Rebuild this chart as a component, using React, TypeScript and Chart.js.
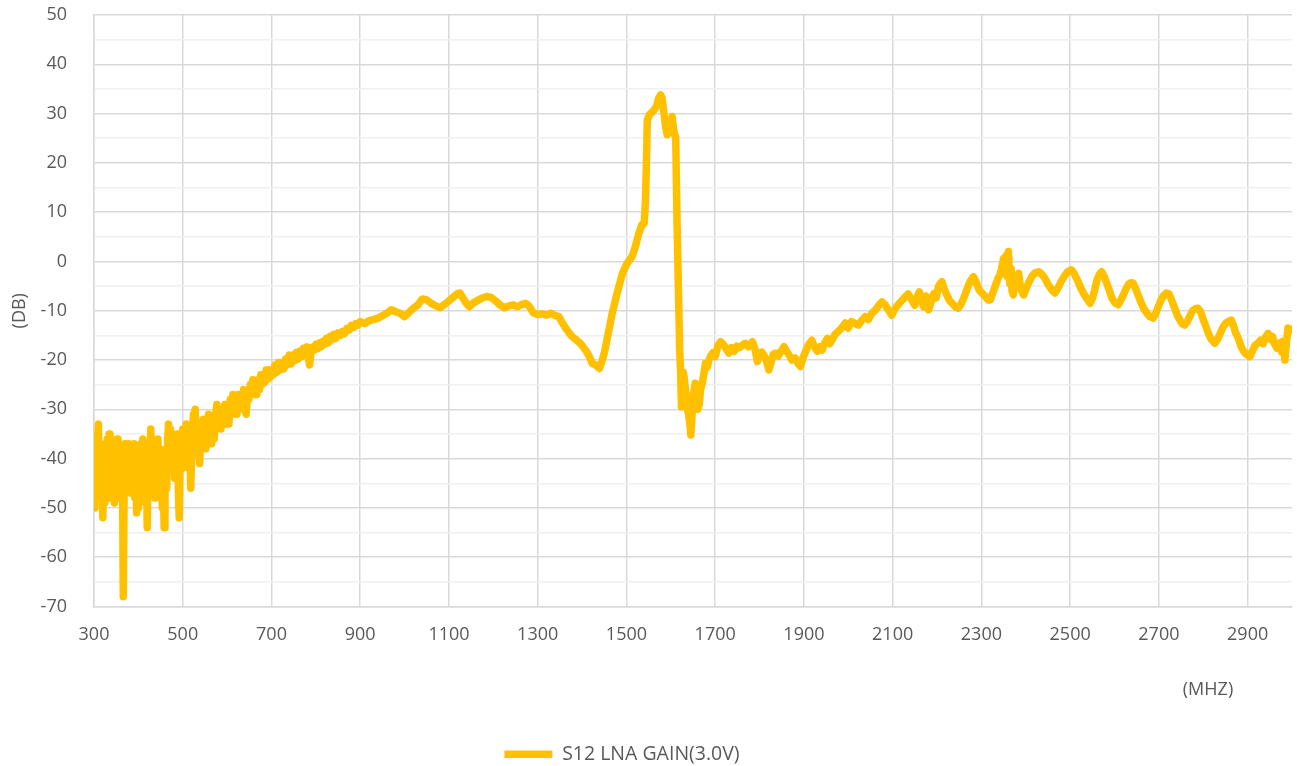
import { useEffect, useRef } from 'react';
import { Chart, registerables } from 'chart.js';

Chart.register(...registerables);

const seriesLabel = 'S12 LNA GAIN(3.0V)';
const xUnit = '(MHZ)';
const yUnit = '(DB)';

const xTickValues = [300, 500, 700, 900, 1100, 1300, 1500, 1700, 1900, 2100, 2300, 2500, 2700, 2900];
const xMin = 300;
const xMax = 3000;
const yMin = -70;
const yMax = 50;
const yStep = 5;

const freqMHz = [
  300, 302, 304, 306, 308, 310, 312, 314, 316, 318, 320, 322, 324, 326, 328, 330, 332, 334, 336, 338,
  340, 342, 344, 346, 348, 350, 352, 354, 356, 358, 360, 362, 364, 366, 368, 370, 372, 374, 376, 378,
  380, 382, 384, 386, 388, 390, 392, 394, 396, 398, 400, 402, 404, 406, 408, 410, 412, 414, 416, 418,
  420, 422, 424, 426, 428, 430, 432, 434, 436, 438, 440, 442, 444, 446, 448, 450, 452, 454, 456, 458,
  460, 462, 464, 466, 468, 470, 472, 474, 476, 478, 480, 482, 484, 486, 488, 490, 492, 494, 496, 498,
  500, 502, 504, 506, 508, 510, 512, 514, 516, 518, 520, 522, 524, 526, 528, 530, 532, 534, 536, 538,
  540, 542, 544, 546, 548, 550, 552, 554, 556, 558, 560,
  562, 565, 568, 571, 574, 577, 580, 583, 586, 589, 592, 595, 598, 601, 604, 607, 610, 613, 616, 619,
  622, 625, 628, 631, 634, 637, 640, 643, 646, 649, 652, 655, 658, 661, 664, 667, 670, 673, 676, 679,
  682, 685, 688, 691, 694, 697, 700, 704, 708, 712, 716, 720, 724, 728, 732, 736, 740, 744, 748, 752,
  756, 760, 764, 768, 772, 776, 780, 783, 786, 789, 792, 796, 800, 804, 808, 812, 816, 820, 824, 828,
  832, 836, 840, 845, 850, 855, 860, 865, 870, 875, 880, 885, 890, 895, 900,
  910, 920, 930, 940, 950, 960, 970, 980, 990, 1000, 1010, 1020, 1030, 1040, 1050, 1060, 1070,
  1080, 1090, 1100, 1110, 1120, 1125, 1130, 1140, 1146, 1155, 1165, 1175, 1185, 1195, 1205, 1215, 1225, 1235, 1245, 1255,
  1265, 1273, 1280, 1290, 1300, 1310, 1320, 1330, 1340, 1348, 1355, 1365, 1378, 1388, 1398, 1408, 1416, 1423, 1431, 1439,
  1444, 1450, 1458, 1468, 1478, 1491, 1502, 1513, 1520, 1528, 1535, 1540, 1543, 1545, 1547, 1552, 1557, 1562, 1568, 1572,
  1577, 1580, 1584, 1588, 1592, 1596, 1600, 1603, 1606, 1609, 1611, 1614, 1617, 1620, 1622, 1624, 1626, 1628, 1630, 1633,
  1636, 1640, 1643, 1645, 1648, 1650, 1652, 1655, 1658, 1661, 1664, 1667, 1671, 1675, 1678, 1682, 1686, 1690, 1695, 1700,
  1706, 1712, 1718, 1724, 1731, 1737, 1743, 1749, 1755, 1761, 1768, 1775, 1784, 1790, 1795, 1800, 1805, 1810, 1815, 1821,
  1826, 1831, 1836, 1842, 1848, 1855, 1862, 1868, 1873, 1880, 1886, 1892, 1898, 1905, 1911, 1918, 1924, 1930, 1936, 1941,
  1947, 1953, 1958, 1963, 1970, 1977, 1985, 1993, 2000, 2007, 2015, 2023, 2030, 2038, 2045, 2053, 2060, 2068, 2076, 2083,
  2090, 2098, 2105, 2113, 2120, 2128, 2135, 2143, 2150, 2155, 2160, 2165, 2170, 2175, 2181, 2187, 2193, 2198, 2203, 2208,
  2211, 2216, 2222, 2228, 2235, 2242, 2248, 2255, 2262, 2268, 2275, 2282, 2288, 2295, 2302, 2310, 2315, 2320, 2326, 2332,
  2337, 2342, 2346, 2350, 2353, 2356, 2358, 2361, 2364, 2367, 2369, 2372, 2375, 2378, 2381, 2384, 2387, 2391, 2395, 2400,
  2407, 2414, 2421, 2429, 2436, 2443, 2450, 2458, 2466, 2473, 2480, 2487, 2494, 2503, 2510, 2517, 2524, 2531, 2538, 2545,
  2551, 2556, 2561, 2566, 2571, 2576, 2582, 2588, 2594, 2601, 2608, 2614, 2620, 2626, 2632, 2637, 2642, 2648, 2654, 2660,
  2666, 2674, 2680, 2687, 2693, 2699, 2705, 2711, 2717, 2723, 2729, 2735, 2741, 2748, 2753, 2758, 2764, 2770, 2776, 2782,
  2788, 2794, 2800, 2806, 2812, 2818, 2826, 2832, 2838, 2844, 2850, 2856, 2863, 2868, 2873, 2879, 2885, 2891, 2897, 2905,
  2911, 2917, 2923, 2929, 2935, 2940, 2946, 2952, 2956, 2960, 2966, 2972, 2977, 2980, 2984, 2987, 2991, 2996, 3000,
];

const gainDb = [
  -38, -50, -40, -47, -36, -33, -45, -38, -48, -40, -52, -42, -49, -37, -44, -36, -46, -35, -42, -48,
  -37, -45, -39, -49, -38, -47, -36, -44, -40, -48, -38, -46, -40, -68, -45, -37, -44, -38, -46, -37,
  -43, -39, -47, -38, -44, -37, -48, -40, -51, -42, -50, -38, -45, -37, -46, -36, -44, -38, -49, -41,
  -54, -43, -37, -45, -34, -40, -36, -46, -38, -48, -37, -44, -36, -47, -38, -44, -40, -50, -42, -54,
  -44, -38, -46, -36, -33, -41, -34, -39, -35, -42, -36, -44, -37, -41, -35, -46, -52, -40, -36, -42,
  -34, -40, -35, -41, -33, -38, -34, -42, -37, -46, -40, -36, -31, -34, -30, -36, -33, -39, -35, -41,
  -36, -33, -38, -32, -36, -34, -38, -33, -36, -31, -35,
  -32, -37, -33, -36, -31, -29, -33, -30, -34, -30, -32, -29, -33, -30, -33, -28, -31, -27, -30, -28,
  -31, -27, -30, -27, -29, -26, -30, -31, -27, -28, -25, -27, -24, -27, -25, -27, -24, -26, -23, -25,
  -23, -24.5, -22, -24, -22, -23.5, -22, -23, -21, -22.5, -20.5, -22, -20.5, -21.8, -19.8, -21, -19, -20.8, -19, -20.2,
  -18.5, -19.8, -18.2, -19.3, -17.6, -18.5, -17.3, -19.5, -21, -18.5, -17.4, -18, -16.8, -17.7, -16.5, -17.3, -16.2, -16.8, -15.6, -16.5,
  -15.2, -15.9, -14.8, -15.6, -14.5, -15, -14.2, -14.6, -13.6, -13.9, -13, -13.4, -12.6, -12.9, -12.2,
  -12.6, -12, -11.8, -11.5, -11, -10.5, -9.8, -10.2, -10.5, -11.2, -10.3, -9.5, -8.8, -7.6, -7.8, -8.5, -9,
  -9.4, -8.7, -8, -7.2, -6.5, -6.4, -7.2, -8.6, -9.2, -8.4, -7.9, -7.4, -7.1, -7.3, -8, -8.8, -9.4, -9, -8.8, -9.2,
  -8.7, -8.5, -9, -10.4, -10.8, -10.6, -10.9, -10.5, -11, -11.2, -12.4, -13.8, -15.3, -16, -16.8, -18, -19.2, -20.7, -21, -21.7,
  -20.5, -18.6, -15, -10.5, -6.8, -2.4, -0.3, 1, 3, 5.7, 7.5, 7.7, 12.5, 20, 28.7, 29.8, 30.2, 30.7, 31.5, 33,
  33.8, 33.2, 30.5, 27.5, 25.7, 26.5, 27.8, 29.4, 27, 25.5, 25.3, 8, -5, -18, -22, -29.5, -28, -22.5, -23.5, -26,
  -29, -31, -33, -35.2, -31, -27, -26.5, -24.7, -28, -30, -29, -26, -24.7, -22.5, -20.7, -21.5, -20, -19.2, -18.5, -19.3,
  -17.2, -16.3, -16.8, -17.6, -18.6, -17.5, -18.2, -17.2, -17.5, -17, -16.6, -17.3, -16.3, -17.8, -20.3, -18.6, -18.4, -19, -20, -22,
  -20.5, -18.8, -18.6, -19.2, -18.3, -17.3, -18.4, -19.2, -20, -19.6, -20.6, -21.3, -19.5, -18, -16.8, -16, -17.4, -18.2, -17.3, -18,
  -16.5, -15.6, -16.7, -16, -14.8, -14.2, -13.5, -12.5, -13.5, -12.2, -12.6, -12.9, -12, -11.2, -11.8, -10.5, -10, -9, -8.2, -8.8,
  -9.8, -10.9, -9.6, -8.7, -8, -7.2, -6.6, -7.8, -8.9, -7.2, -6.2, -7.8, -9.2, -7, -9.8, -8.2, -6.5, -7.4, -5.1, -4.4,
  -4.1, -5.5, -6.8, -7.9, -8.6, -9.3, -9.5, -8.5, -7, -5.5, -4, -3.1, -4.2, -5.8, -6.5, -7.2, -7.8, -7.8, -6.3, -4.8,
  -3.5, -2.7, -1.2, 0.6, -2.5, 1.2, -3, 2, -4.5, -1.5, -6, -6.8, -3.8, -5.2, -3, -2.4, -4.6, -6, -6.8, -5.7,
  -4.2, -3, -2.3, -2.1, -2.6, -3.4, -4.6, -5.7, -6.4, -5.3, -4, -3, -2.1, -1.7, -2.6, -3.9, -5.4, -6.6, -7.6, -8.5,
  -7.3, -5.5, -3.6, -2.6, -2.1, -2.9, -4.3, -5.8, -7.4, -8.4, -8.8, -7.9, -6.8, -5.5, -4.6, -4.3, -4.4, -5.6, -7, -8.4,
  -9.6, -10.6, -11.2, -11.5, -10.5, -9.1, -7.8, -6.9, -6.4, -6.6, -7.9, -9.3, -10.8, -12, -12.7, -12.9, -12.2, -11, -10, -9.6,
  -9.5, -10.2, -11.8, -13.2, -14.7, -15.8, -16.6, -15.8, -14.6, -13.4, -12.6, -12.2, -11.9, -13, -14.5, -15.6, -17.2, -18.2, -18.8, -19.3,
  -18.1, -17, -16.6, -16, -16.7, -15.4, -14.6, -15.8, -15.2, -16.6, -17.6, -16.5, -18.4, -16.2, -20, -17, -13.5, -14, -13.8,
];

const FONT_FAMILY = "'Open Sans', 'Noto Sans', sans-serif";
const TEXT_COLOR = '#595959';
const LINE_COLOR = '#FFC000';
const MAJOR_GRID = '#d9d9d9';
const MINOR_GRID = '#f0f0f0';

export default function App() {
  const canvasRef = useRef<HTMLCanvasElement | null>(null);

  useEffect(() => {
    const canvas = canvasRef.current;
    if (!canvas) return;

    const points = freqMHz.map((f, i) => ({ x: f, y: gainDb[i] }));

    const extrasPlugin = {
      id: 'extras',
      afterLayout(chart: any) {
        if (chart.legend) {
          chart.legend.left -= 24;
          chart.legend.right -= 24;
          chart.legend.top += 8;
          chart.legend.bottom += 8;
        }
      },
      afterDraw(chart: any) {
        const { ctx, chartArea } = chart;
        ctx.save();
        ctx.font = `18px ${FONT_FAMILY}`;
        ctx.fillStyle = TEXT_COLOR;
        ctx.textAlign = 'center';
        ctx.textBaseline = 'middle';
        ctx.fillText(xUnit, chartArea.right - 84, chartArea.bottom + 83);
        ctx.restore();
      },
    };

    const chart = new Chart(canvas, {
      type: 'line',
      data: {
        datasets: [
          {
            label: seriesLabel,
            data: points,
            borderColor: LINE_COLOR,
            backgroundColor: LINE_COLOR,
            borderWidth: 7.5,
            borderJoinStyle: 'round',
            borderCapStyle: 'round',
            pointRadius: 0,
            tension: 0,
            fill: false,
          },
        ],
      },
      options: {
        animation: false,
        responsive: true,
        maintainAspectRatio: false,
        devicePixelRatio: 1,
        layout: { padding: { top: 15, right: 5, left: 0, bottom: 0 } },
        plugins: {
          tooltip: { enabled: false },
          legend: {
            display: true,
            position: 'bottom',
            labels: {
              usePointStyle: true,
              pointStyle: 'line',
              pointStyleWidth: 48,
              padding: 4,
              color: TEXT_COLOR,
              font: { family: FONT_FAMILY, size: 19.5 },
            },
          },
        },
        scales: {
          x: {
            type: 'linear',
            min: xMin,
            max: xMax,
            afterBuildTicks: (scale: any) => {
              scale.ticks = xTickValues.map((v) => ({ value: v }));
            },
            afterFit: (scale: any) => {
              scale.height = 126;
            },
            grid: { color: MAJOR_GRID, lineWidth: 1.5, drawTicks: false },
            border: { display: true, color: MAJOR_GRID, width: 1.5 },
            ticks: {
              autoSkip: false,
              maxRotation: 0,
              padding: 18,
              color: TEXT_COLOR,
              font: { family: FONT_FAMILY, size: 18 },
              callback: (v: any) => String(v),
            },
          },
          y: {
            type: 'linear',
            min: yMin,
            max: yMax,
            afterFit: (scale: any) => {
              scale.width = 94;
              scale.paddingTop = 0;
              scale.paddingBottom = 0;
            },
            grid: {
              color: (c: any) => (c.tick && Number(c.tick.value) % 10 !== 0 ? MINOR_GRID : MAJOR_GRID),
              lineWidth: 1.5,
              drawTicks: false,
            },
            border: { display: true, color: MAJOR_GRID, width: 1.5 },
            title: {
              display: true,
              text: yUnit,
              color: TEXT_COLOR,
              font: { family: FONT_FAMILY, size: 18 },
              padding: { top: 9, bottom: 0 },
            },
            ticks: {
              stepSize: yStep,
              autoSkip: false,
              padding: 27,
              color: TEXT_COLOR,
              font: { family: FONT_FAMILY, size: 18 },
              callback: (v: any) => (Number(v) % 10 === 0 ? String(v) : ''),
            },
          },
        },
      },
      plugins: [extrasPlugin],
    });

    return () => {
      chart.destroy();
    };
  }, []);

  return (
    <div style={{ position: 'fixed', left: 0, top: 0, width: 1297, height: 766, background: '#ffffff' }}>
      <canvas ref={canvasRef} />
    </div>
  );
}
